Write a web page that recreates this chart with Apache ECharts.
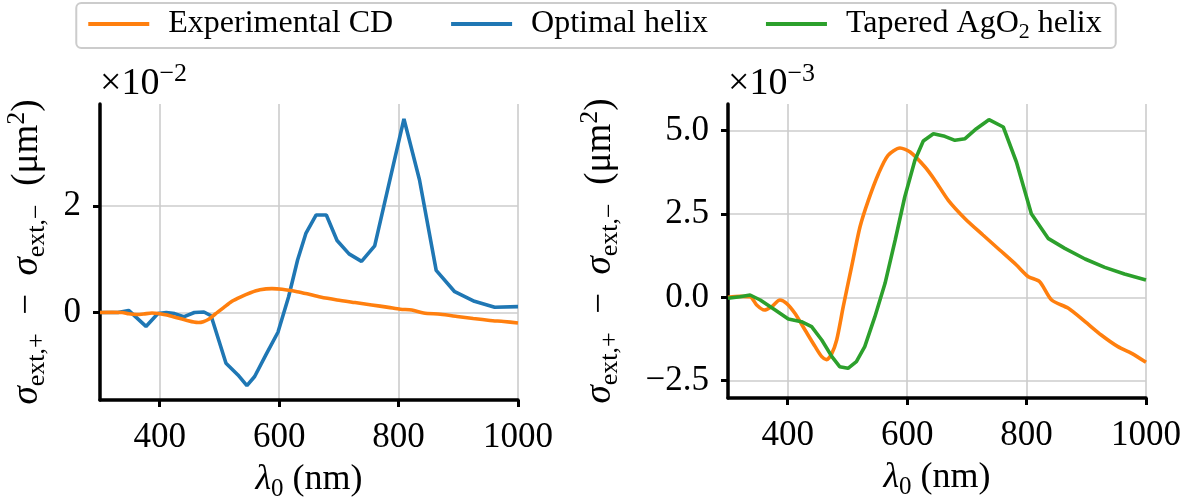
<!DOCTYPE html>
<html><head><meta charset="utf-8">
<script src="https://cdn.jsdelivr.net/npm/echarts@6/dist/echarts.min.js"></script>
<style>html,body{margin:0;padding:0;background:#fff}#c{width:1190px;height:499px}</style>
</head><body><div id="c"></div>
<script>
// ---- data ----
const xTicks = [400, 600, 800, 1000];
const leftYTicks = [0, 2];
const rightYTicks = [-2.5, 0, 2.5, 5];
const seriesNames = ['Experimental CD', 'Optimal helix', 'Tapered AgO2 helix'];

// Experimental CD (units of 1e-3 µm²)
const expLambda = [300,320,337,348,361,373,387,398,412,429,446,457,465,473,482,493,507,521,535,552,568,588,605,630,647,669,697,727,755,783,803,822,842,870,898,925,953,976,1000];
const expValues = [0.0,0.03,0.02,-0.23,-0.38,-0.28,-0.08,-0.18,-0.48,-0.98,-1.48,-1.78,-1.87,-1.72,-1.28,-0.28,0.92,2.11,2.91,3.71,4.26,4.48,4.36,3.91,3.50,2.91,2.36,1.87,1.42,0.97,0.62,0.47,-0.08,-0.33,-0.73,-1.13,-1.48,-1.68,-1.95];

// Optimal helix (units of 1e-2 µm²)
const optLambda = [300,330,348,377,397,411,425,440,458,474,486,511,531,546,559,578,598,616,631,645,662,679,697,717,738,760,809,835,863,894,927,961,1000];
const optValues = [0.0,0.0,0.04,-0.26,-0.02,0.0,-0.02,-0.08,0.0,0.01,-0.06,-0.95,-1.17,-1.37,-1.20,-0.79,-0.37,0.30,0.99,1.49,1.83,1.83,1.35,1.10,0.96,1.25,3.63,2.49,0.79,0.39,0.21,0.10,0.11];

// Tapered AgO2 helix (units of 1e-3 µm²)
const tapLambda = [300,320,337,354,379,401,423,440,457,474,487,501,515,529,546,563,580,596,613,627,644,663,680,697,716,737,761,783,808,836,864,898,931,964,1000];
const tapValues = [-0.03,0.02,0.07,-0.08,-0.38,-0.65,-0.73,-0.88,-1.28,-1.78,-2.08,-2.13,-1.93,-1.48,-0.58,0.42,1.72,3.01,4.11,4.69,4.91,4.83,4.71,4.76,5.06,5.33,5.11,4.06,2.51,1.77,1.47,1.15,0.90,0.70,0.52];

// ---- build ----
const pair = (xs, ys, k) => xs.map((x, i) => [x, ys[i] * k]);
const FONT = 'Liberation Serif';
const C_ORANGE = '#ff7f0e', C_BLUE = '#1f77b4', C_GREEN = '#2ca02c';

const nameRich = {
  n: {fontFamily: FONT, fontSize: 37, lineHeight: 46, color: '#000'},
  i: {fontFamily: FONT, fontSize: 37, lineHeight: 46, fontStyle: 'italic', color: '#000'},
  sub: {fontFamily: FONT, fontSize: 26, lineHeight: 22, verticalAlign: 'bottom', color: '#000'},
  sup: {fontFamily: FONT, fontSize: 26, lineHeight: 24, verticalAlign: 'top', color: '#000'}
};
const xRich = {
  n: {fontFamily: FONT, fontSize: 36, lineHeight: 44, color: '#000'},
  i: {fontFamily: FONT, fontSize: 36, lineHeight: 44, fontStyle: 'italic', color: '#000'},
  sub: {fontFamily: FONT, fontSize: 25, lineHeight: 22, verticalAlign: 'bottom', color: '#000'}
};
const yName = '{i|σ}{sub|ext,+}{n|  −  }{i|σ}{sub|ext,−}{n|  (μm}{sup|2}{n|)}';
const xName = '{i|λ}{sub|0}{n| (nm)}';

function xAxisDef(gridIndex) {
  return {
    type: 'value', gridIndex, min: 300, max: 1000,
    axisLine: {onZero: false, lineStyle: {color: '#000', width: 3.5}},
    axisTick: {show: true, length: 7, customValues: xTicks, lineStyle: {color: '#000', width: 3}},
    axisLabel: {customValues: xTicks, formatter: v => String(v), fontFamily: FONT, fontSize: 35, color: '#000', margin: 20},
    splitLine: {show: true, lineStyle: {color: '#cccccc', width: 1.6}},
    name: xName, nameLocation: 'middle', nameGap: 58, nameMoveOverlap: false,
    nameTextStyle: {fontFamily: FONT, fontSize: 36, lineHeight: 44, rich: xRich}
  };
}
function yAxisDef(gridIndex, min, max, ticks, fmt, gap) {
  return {
    type: 'value', gridIndex, min, max,
    axisLine: {show: true, onZero: false, lineStyle: {color: '#000', width: 3.5}},
    axisTick: {show: true, length: 7, customValues: ticks, lineStyle: {color: '#000', width: 3}},
    axisLabel: {customValues: ticks, formatter: fmt, fontFamily: FONT, fontSize: 35, color: '#000', margin: 19},
    splitLine: {show: true, lineStyle: {color: '#cccccc', width: 1.6}},
    name: yName, nameLocation: 'middle', nameRotate: 90, nameGap: gap, nameMoveOverlap: false,
    nameTextStyle: {fontFamily: FONT, fontSize: 37, lineHeight: 46, rich: nameRich}
  };
}

const chart = echarts.init(document.getElementById('c'), null, {renderer: 'canvas'});
chart.setOption({
  animation: false,
  backgroundColor: '#fff',
  grid: [
    {left: 100, right: 672, top: 104, bottom: 99, containLabel: false, outerBoundsMode: 'none'},
    {left: 728, right: 44, top: 104, bottom: 101, containLabel: false, outerBoundsMode: 'none'}
  ],
  legend: {
    data: seriesNames,
    left: 'center', top: 3,
    padding: [5, 14, 5, 12],
    borderColor: '#cccccc', borderWidth: 2, borderRadius: 5,
    icon: 'rect', itemWidth: 61, itemHeight: 4, itemGap: 58,
    formatter: function (name) {
      if (name === 'Tapered AgO2 helix') return '{n|Tapered AgO}{s|2}{n| helix}';
      return '{n|' + name + '}';
    },
    textStyle: {
      fontFamily: FONT, fontSize: 32, color: '#000', padding: [0, 0, 0, 14],
      rich: {
        n: {fontFamily: FONT, fontSize: 32, lineHeight: 38, color: '#000'},
        s: {fontFamily: FONT, fontSize: 22, lineHeight: 22, verticalAlign: 'bottom', color: '#000'}
      }
    }
  },
  xAxis: [xAxisDef(0), xAxisDef(1)],
  yAxis: [
    yAxisDef(0, -1.64, 3.91, leftYTicks, v => String(v), 50),
    yAxisDef(1, -3.02, 5.8, rightYTicks, v => (v < 0 ? '−' : '') + Math.abs(v).toFixed(1), 105)
  ],
  graphic: [
    {type: 'text', left: 100, top: 61, style: {text: '{a|×10}{b|−2}', rich: {
      a: {fontFamily: FONT, fontSize: 38, lineHeight: 46, fill: '#000'},
      b: {fontFamily: FONT, fontSize: 26, lineHeight: 24, verticalAlign: 'top', fill: '#000'}}}},
    {type: 'text', left: 728, top: 61, style: {text: '{a|×10}{b|−3}', rich: {
      a: {fontFamily: FONT, fontSize: 38, lineHeight: 46, fill: '#000'},
      b: {fontFamily: FONT, fontSize: 26, lineHeight: 24, verticalAlign: 'top', fill: '#000'}}}}
  ],
  series: [
    {name: 'Optimal helix', type: 'line', xAxisIndex: 0, yAxisIndex: 0, data: pair(optLambda, optValues, 1),
     symbol: 'none', color: C_BLUE, lineStyle: {width: 3.6, color: C_BLUE}, z: 2},
    {name: 'Experimental CD', type: 'line', xAxisIndex: 0, yAxisIndex: 0, data: pair(expLambda, expValues, 0.1),
     symbol: 'none', smooth: 0.25, color: C_ORANGE, lineStyle: {width: 3.6, color: C_ORANGE}, z: 3},
    {name: 'Experimental CD', type: 'line', xAxisIndex: 1, yAxisIndex: 1, data: pair(expLambda, expValues, 1),
     symbol: 'none', smooth: 0.25, color: C_ORANGE, lineStyle: {width: 3.6, color: C_ORANGE}, z: 2},
    {name: 'Tapered AgO2 helix', type: 'line', xAxisIndex: 1, yAxisIndex: 1, data: pair(tapLambda, tapValues, 1),
     symbol: 'none', color: C_GREEN, lineStyle: {width: 3.6, color: C_GREEN}, z: 3}
  ]
});
</script></body></html>
